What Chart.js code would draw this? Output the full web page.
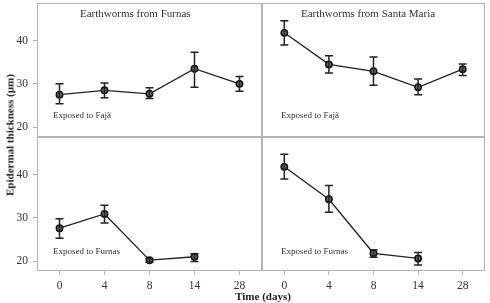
<!DOCTYPE html>
<html>
<head>
<meta charset="utf-8">
<script src="https://cdn.jsdelivr.net/npm/chart.js@4.4.0/dist/chart.umd.min.js"></script>
<style>
  html, body { margin: 0; padding: 0; background: #fff; }
  #fig { position: relative; width: 490px; height: 303px; overflow: hidden;
         font-family: 'Liberation Serif', 'Times New Roman', serif; color: #333; }
  #fig canvas { position: absolute; }
  .lbl { position: absolute; white-space: nowrap; line-height: 1; }
  .title { font-size: 11px; }
  .inset { font-size: 9px; }
  .axis { font-weight: bold; font-size: 11px; color: #222; }
</style>
</head>
<body>
<div id="fig">
  <canvas id="tl" width="262" height="137" style="left:0;top:0"></canvas>
  <canvas id="tr" width="228" height="137" style="left:262px;top:0"></canvas>
  <canvas id="bl" width="262" height="166" style="left:0;top:137px"></canvas>
  <canvas id="br" width="228" height="166" style="left:262px;top:137px"></canvas>

  <div class="lbl title" style="left:80px;top:8px">Earthworms from Furnas</div>
  <div class="lbl title" style="left:301px;top:8px">Earthworms from Santa Maria</div>
  <div class="lbl inset" style="left:53px;top:111px">Exposed to Fajã</div>
  <div class="lbl inset" style="left:281px;top:111px">Exposed to Fajã</div>
  <div class="lbl inset" style="left:53px;top:247px">Exposed to Furnas</div>
  <div class="lbl inset" style="left:281px;top:247px">Exposed to Furnas</div>
  <div class="lbl axis" style="left:263px;top:291px;transform:translateX(-50%)">Time (days)</div>
  <div class="lbl axis" style="left:10px;top:135px;transform:translate(-50%,-50%) rotate(-90deg)">Epidermal thickness (µm)</div>
</div>

<script>
// time points (days)
const days = ['0', '4', '8', '14', '28'];
const yTicks = [20, 30, 40];

// Furnas worms, exposed to Fajã soil
const furnasFajaMean = [27.5, 28.5, 27.7, 33.5, 30.0];
const furnasFajaHi   = [30.0, 30.2, 29.1, 37.3, 31.7];
const furnasFajaLo   = [25.4, 26.8, 26.6, 29.2, 28.3];

// Santa Maria worms, exposed to Fajã soil
const smFajaMean = [41.8, 34.5, 32.9, 29.2, 33.4];
const smFajaHi   = [44.6, 36.5, 36.2, 31.1, 34.6];
const smFajaLo   = [39.0, 32.5, 29.7, 27.5, 31.9];

// Furnas worms, exposed to Furnas soil (no day 28)
const furnasFurnasMean = [27.6, 30.9, 20.2, 21.0];
const furnasFurnasHi   = [29.8, 32.9, 20.6, 21.7];
const furnasFurnasLo   = [25.3, 28.8, 19.7, 19.9];

// Santa Maria worms, exposed to Furnas soil (no day 28)
const smFurnasMean = [41.8, 34.3, 21.8, 20.6];
const smFurnasHi   = [44.7, 37.5, 22.6, 22.0];
const smFurnasLo   = [39.0, 31.3, 20.9, 19.1];

const FRAME = '#b4b4b4';
const INK = '#222';

// draws the panel frame and the error bars
const panelPlugin = {
  id: 'panel',
  beforeDraw(chart) {
    const a = chart.chartArea;
    const ctx = chart.ctx;
    ctx.save();
    ctx.strokeStyle = FRAME;
    ctx.lineWidth = 1;
    ctx.strokeRect(Math.round(a.left) + 0.5, Math.round(a.top) + 0.5,
      Math.round(a.right - a.left) - 1, Math.round(a.bottom - a.top) - 1);
    ctx.restore();
  },
  afterDatasetsDraw(chart, args, opts) {
    const ctx = chart.ctx;
    const xs = chart.scales.x;
    const ys = chart.scales.y;
    ctx.save();
    ctx.strokeStyle = INK;
    ctx.lineWidth = 1.5;
    opts.hi.forEach((hi, i) => {
      const x = xs.getPixelForValue(i);
      const yh = ys.getPixelForValue(hi);
      const yl = ys.getPixelForValue(opts.lo[i]);
      ctx.beginPath();
      ctx.moveTo(x, yh); ctx.lineTo(x, yl);
      ctx.moveTo(x - 4, yh); ctx.lineTo(x + 4, yh);
      ctx.moveTo(x - 4, yl); ctx.lineTo(x + 4, yl);
      ctx.stroke();
    });
    ctx.restore();
  }
};

function makePanel(id, mean, hi, lo, showY, showX, padRight) {
  const tickFont = { family: "'Liberation Serif', 'Times New Roman', serif", size: 11.5 };
  new Chart(document.getElementById(id), {
    type: 'line',
    data: {
      labels: days,
      datasets: [{
        data: mean,
        borderColor: INK,
        borderWidth: 1.3,
        pointRadius: 3.2,
        pointBackgroundColor: '#666',
        pointBorderColor: '#111',
        pointBorderWidth: 1.5,
        tension: 0
      }]
    },
    options: {
      responsive: false,
      animation: false,
      layout: {
        autoPadding: false,
        padding: { top: showX ? 0 : 3, right: padRight, left: 0, bottom: 0 }
      },
      plugins: {
        legend: { display: false },
        tooltip: { enabled: false },
        panel: { hi: hi, lo: lo }
      },
      scales: {
        x: {
          type: 'category',
          offset: true,
          display: showX,
          border: { display: false },
          grid: { drawOnChartArea: false, drawTicks: true, tickLength: 4, color: FRAME },
          ticks: { color: '#333', font: tickFont, padding: 4, maxRotation: 0 },
          afterFit(scale) {
            scale.height = showX ? 32 : 0;
            scale.paddingLeft = 0;
            scale.paddingRight = 0;
          }
        },
        y: {
          min: 17.7,
          max: 48.7,
          display: showY,
          border: { display: false },
          grid: { drawOnChartArea: false, drawTicks: true, tickLength: 4, color: FRAME },
          ticks: { color: '#333', font: tickFont, padding: 5 },
          afterBuildTicks(scale) { scale.ticks = yTicks.map(v => ({ value: v })); },
          afterFit(scale) {
            scale.width = showY ? 37 : 0;
            scale.paddingTop = 0;
            scale.paddingBottom = 0;
          }
        }
      }
    },
    plugins: [panelPlugin]
  });
}

makePanel('tl', furnasFajaMean, furnasFajaHi, furnasFajaLo, true, false, 0);
makePanel('tr', smFajaMean, smFajaHi, smFajaLo, false, false, 5);
makePanel('bl', furnasFurnasMean, furnasFurnasHi, furnasFurnasLo, true, true, 0);
makePanel('br', smFurnasMean, smFurnasHi, smFurnasLo, false, true, 5);
</script>
</body>
</html>
